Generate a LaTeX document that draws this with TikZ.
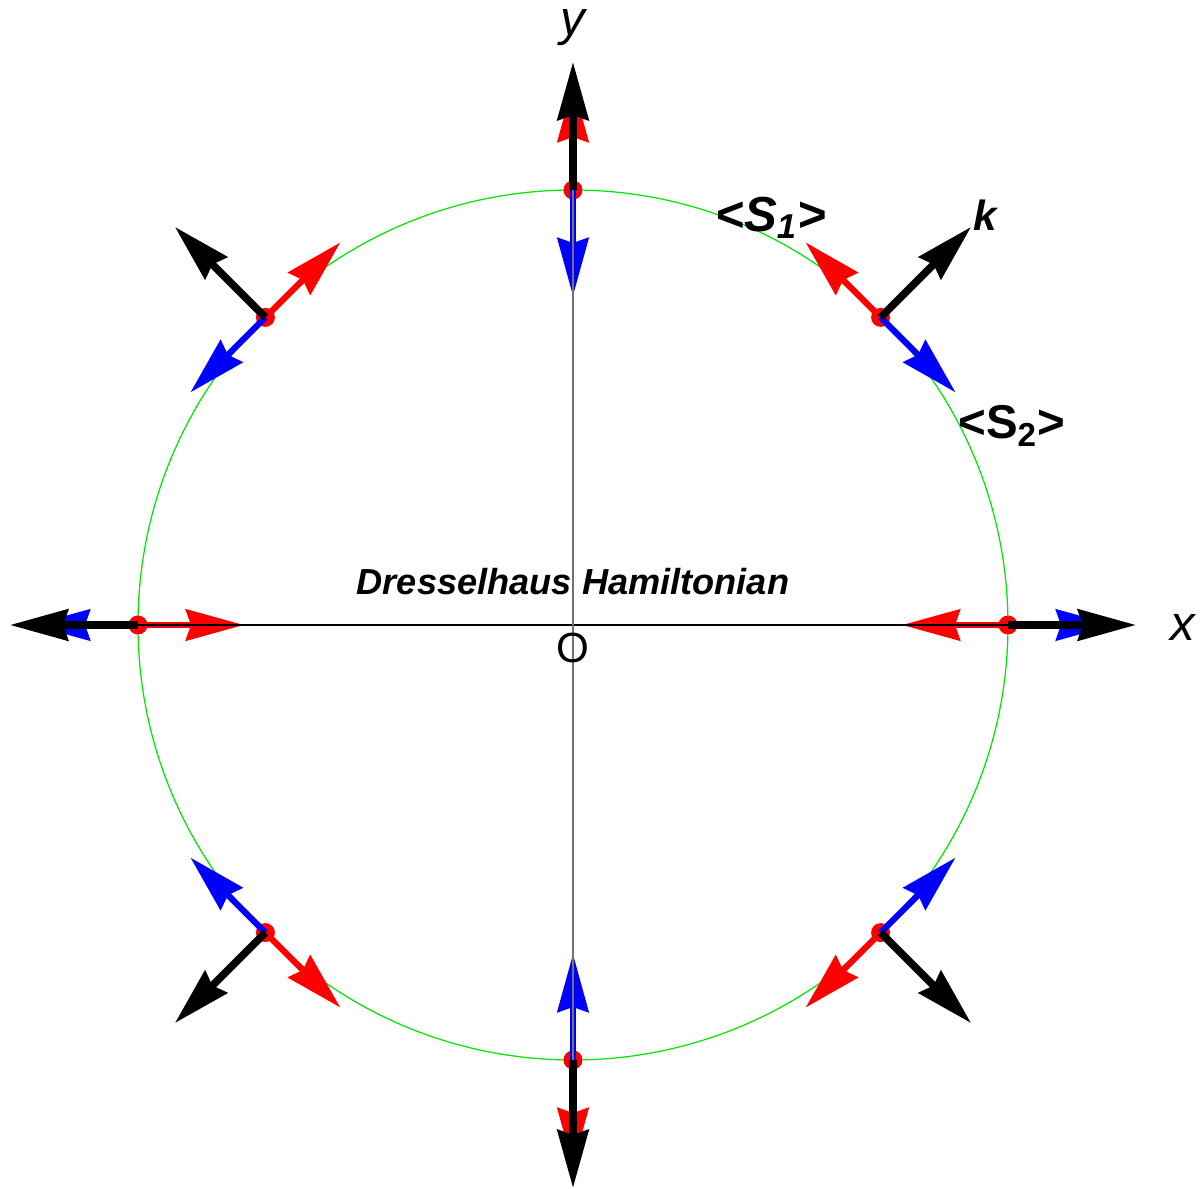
\documentclass[tikz,border=0pt]{standalone}
\usepackage{fontspec}
\setmainfont{Liberation Sans}
\usetikzlibrary{arrows.meta}
\definecolor{ringgreen}{RGB}{0,230,0}
\begin{document}
\begin{tikzpicture}[line join=miter,
  vechead/.style={-{Stealth[length=5.8mm, width=3.1mm, inset=0.5mm]}},
  kvec/.style={vechead, line width=0.75mm, black},
  sone/.style={vechead, line width=0.62mm, red},
  stwo/.style={vechead, line width=0.62mm, blue},
  spot/.style={fill=red},
  boldlab/.style={font=\bfseries\itshape\fontsize{14}{14}\selectfont}]
  \useasboundingbox (-5.73, -5.64) rectangle (6.30, 6.25);

  % Fermi circle
  \draw[ringgreen, line width=0.35pt] (0, 0) circle (4.35);

  % Points on the circle
  \foreach \a in {0, 45, ..., 315}
    \fill[spot] (\a:4.35) circle (0.095);

  % <S1> (red) and <S2> (blue)
  \draw[sone] (0:4.35) -- ++(180:1.06);
  \draw[stwo] (0:4.35) -- ++(0:1.06);
  \draw[sone] (45:4.35) -- ++(135:1.06);
  \draw[stwo] (45:4.35) -- ++(315:1.06);
  \draw[sone] (90:4.35) -- ++(90:1.06);
  \draw[stwo] (90:4.35) -- ++(270:1.06);
  \draw[sone] (135:4.35) -- ++(45:1.06);
  \draw[stwo] (135:4.35) -- ++(225:1.06);
  \draw[sone] (180:4.35) -- ++(0:1.06);
  \draw[stwo] (180:4.35) -- ++(180:1.06);
  \draw[sone] (225:4.35) -- ++(315:1.06);
  \draw[stwo] (225:4.35) -- ++(135:1.06);
  \draw[sone] (270:4.35) -- ++(270:1.06);
  \draw[stwo] (270:4.35) -- ++(90:1.06);
  \draw[sone] (315:4.35) -- ++(225:1.06);
  \draw[stwo] (315:4.35) -- ++(45:1.06);

  % Axes
  \draw[black, line width=0.4pt] (-5.3, 0) -- (5.3, 0);
  \draw[black!55, line width=0.4pt] (0, -5.3) -- (0, 5.3);

  % k vectors
  \foreach \a in {0, 45, ..., 315}
    \draw[kvec] (\a:4.35) -- ++(\a:1.28);

  % Labels
  \node (xlab) at (6.10, -0.03) {\fontsize{14}{14}\selectfont\itshape x};
  \node (ylab) at (0, 5.97) {\fontsize{14}{14}\selectfont\itshape y};
  \node (orig) at (0, -0.225) {\fontsize{12}{12}\selectfont O};
  \node[boldlab, font=\bfseries\itshape\fontsize{10.3}{10.3}\selectfont] (title) at (0, 0.43) {Dresselhaus Hamiltonian};
  \node[boldlab] (sonelab) at (1.98, 4.07) {<S\textsubscript{1}>};
  \node[boldlab, font=\bfseries\fontsize{13.5}{13.5}\selectfont] (stwolab) at (4.39, 1.99) {<S\textsubscript{2}>};
  \node[boldlab, font=\bfseries\itshape\fontsize{12}{12}\selectfont] (klab) at (4.12, 4.10) {k};
\end{tikzpicture}
\end{document}
